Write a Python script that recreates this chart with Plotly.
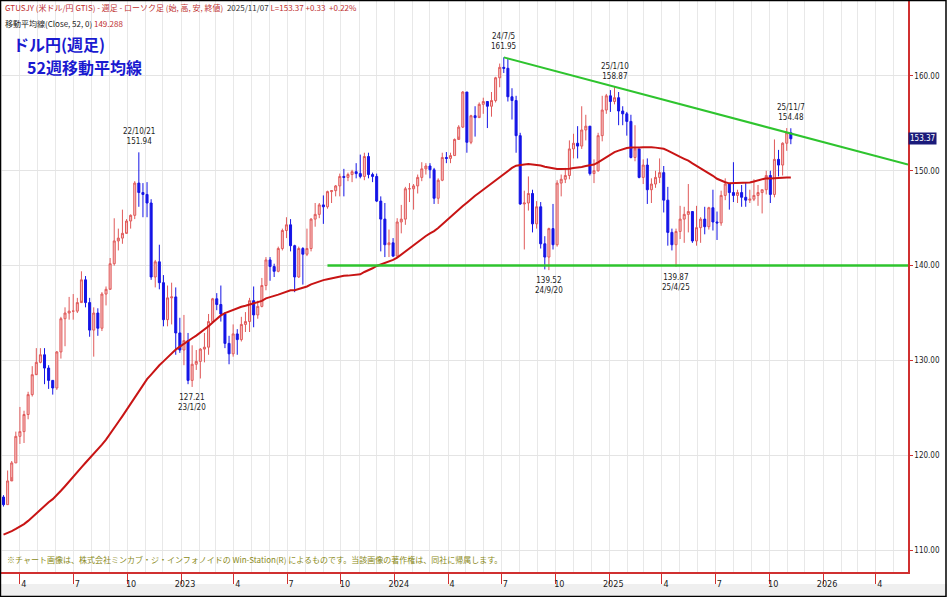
import pandas as pd
import plotly.graph_objects as go

# weekly closes before the chart window (only used to seed the 52-week MA)
pre_closes = [108.3,109.0,108.9,109.6, 110.6,109.7,108.8,107.9,109.3, 108.6,109.4,108.9,109.8,
              109.5,109.7,110.2,110.7, 111.0,110.1,110.1,110.5,109.7, 110.2,109.6,109.8,109.8,
              109.7,109.9,109.9,110.7, 111.0,112.2,114.2,113.5,114.0, 113.4,113.9,114.0,113.4,
              112.8,113.4,113.7,114.4,115.1, 115.6,114.2,113.7,115.3, 115.2,115.4,115.0,115.6]

# weekly candles, first week ending 2022-03-04
closes = [114.8,117.3,119.2,122.0,122.5,124.3,126.4,128.5,129.8,130.6,129.2,127.9,127.1,130.9,134.4,135.0,
          135.2,135.2,136.1,138.5,136.1,133.2,135.0,133.4,137.0,137.5,140.2,142.6,142.9,143.4,144.7,145.3,
          148.7,147.7,147.5,146.6,138.8,140.4,138.2,134.3,136.6,136.7,132.9,131.1,
          132.1,127.9,129.6,129.9,131.2,131.4,134.1,136.5,135.9,134.9,131.8,130.7,132.8,132.2,133.8,134.1,
          136.3,134.8,135.7,137.9,140.6,139.9,139.4,141.8,143.7,144.3,142.1,138.8,141.8,141.2,141.8,144.9,
          145.4,146.4,146.2,147.8,147.9,148.4,149.4,149.3,149.6,149.9,149.7,149.4,151.5,149.6,149.4,146.8,
          144.9,142.2,142.4,141.0,
          144.6,144.9,148.1,148.1,148.4,149.3,150.2,150.5,150.1,147.1,149.0,151.4,151.3,151.6,153.3,154.6,
          158.3,153.0,155.8,155.6,157.0,157.3,156.8,157.4,159.8,160.9,160.8,157.8,157.4,153.7,146.5,146.6,
          147.6,144.4,146.2,142.3,140.9,143.9,142.2,148.7,149.1,149.5,152.3,152.9,152.6,154.3,154.7,149.7,
          150.0,153.7,156.4,157.9,
          157.3,157.7,156.3,156.0,155.2,151.4,152.3,149.3,150.6,148.0,148.6,149.3,149.8,146.9,143.5,142.2,
          143.6,144.9,145.4,145.7,142.6,144.0,144.9,144.1,146.1,144.6,144.5,147.4,148.6,147.7,147.4,147.7,
          147.2,146.9,147.0,147.4,147.7,148.0,149.5,147.5,151.2,150.6,152.9,154.0,153.37]
highs = [115.8,118.4,119.4,122.5,125.1,124.7,126.7,129.4,131.3,131.3,131.3,129.5,127.6,131.0,134.6,135.6,
         136.7,137.0,136.6,139.4,138.9,136.6,135.6,135.5,137.2,137.8,140.8,144.99,143.9,145.9,144.9,145.4,
         148.9,151.94,148.7,148.8,147.0,140.6,142.2,139.0,137.9,138.2,137.7,134.5,
         134.8,132.9,131.6,131.1,131.3,132.9,134.9,136.6,137.1,137.9,135.1,132.6,133.8,133.3,134.6,135.1,
         136.6,137.8,136.3,138.7,140.9,140.9,140.2,142.0,143.9,145.1,144.9,142.2,142.0,141.95,143.9,145.0,
         146.6,146.6,147.4,147.9,147.95,148.5,149.7,150.2,149.8,150.1,150.8,151.7,151.9,151.9,149.8,149.7,
         147.3,146.6,143.8,142.9,
         145.0,146.4,148.3,148.7,148.6,149.6,150.9,150.8,150.8,150.3,149.2,151.9,151.97,151.9,153.4,154.8,
         158.4,157.8,155.9,156.8,157.2,157.7,157.0,158.3,159.9,161.3,161.95,161.8,158.7,157.9,154.0,147.9,
         149.4,148.0,146.8,146.7,143.1,144.0,146.5,149.0,149.6,150.3,153.2,153.9,154.7,156.8,155.9,154.5,
         151.2,154.0,157.9,158.1,
         158.5,158.87,158.3,156.8,156.2,155.9,154.8,152.1,151.2,151.3,149.2,150.0,151.3,150.5,148.3,143.9,
         143.9,146.3,146.2,148.6,144.8,146.3,145.1,146.2,146.2,148.0,145.7,147.9,149.2,148.7,150.9,148.0,
         148.5,148.8,148.0,149.1,148.5,148.0,150.0,150.0,153.3,152.2,153.0,154.5,154.48]
lows = [114.6,114.8,117.7,119.2,121.2,121.3,123.8,126.2,128.6,129.7,127.5,127.0,126.4,126.9,130.2,131.5,
        134.3,134.3,135.0,136.3,135.6,132.5,130.4,132.6,133.1,135.8,137.6,140.0,141.6,142.3,143.5,143.9,
        144.9,146.2,145.1,145.1,138.5,137.7,137.5,133.6,133.6,133.8,130.6,130.8,
        129.5,127.5,127.21,129.0,128.1,129.8,130.6,134.0,135.3,134.1,131.3,129.6,130.4,130.6,132.0,133.0,
        133.0,133.5,134.4,135.6,137.4,138.4,138.8,139.3,141.6,142.9,141.5,137.2,138.7,138.0,141.0,141.5,
        144.1,145.0,144.4,146.0,146.6,147.3,147.3,147.3,148.9,148.8,149.2,149.2,149.0,149.2,148.8,146.7,
        141.5,140.9,140.9,140.9,
        140.8,143.4,144.3,146.7,145.9,147.6,148.9,149.6,149.2,146.5,146.5,148.9,150.8,150.8,151.6,153.6,
        154.5,151.9,152.8,153.6,155.8,156.0,154.5,155.7,157.2,158.8,160.3,157.3,155.4,151.9,146.4,141.7,
        145.8,143.5,143.9,141.8,139.6,139.52,141.7,142.0,147.3,148.7,149.1,151.3,151.3,152.3,153.2,149.5,
        148.7,149.9,153.1,156.0,
        156.2,157.0,154.8,154.8,153.7,151.3,151.0,149.2,148.6,146.5,146.6,148.2,148.7,145.6,142.1,141.6,
        139.87,142.8,142.4,143.5,142.4,142.1,142.4,143.3,143.8,143.7,142.7,144.2,146.9,145.9,146.7,146.6,
        146.2,146.2,146.6,146.8,146.3,145.5,147.5,146.6,147.2,149.4,149.5,152.1,152.8]

dates = pd.date_range("2022-03-04", periods=len(closes), freq="7D")
opens = [pre_closes[-1]] + closes[:-1]
ma52 = pd.Series(pre_closes + closes).rolling(52).mean().iloc[len(pre_closes):].values

# drawn lines
trend_dates = ["2024-07-05", "2026-05-26"]
trend_vals = [161.95, 150.65]
support_dates = ["2023-09-08", "2026-05-26"]
support_vals = [140.0, 140.0]

# swing labels
peak_dates = ["2022-10-21", "2024-07-05", "2025-01-10", "2025-11-07"]
peak_vals = [151.94, 161.95, 158.87, 154.48]
peak_text = ["22/10/21", "24/7/5", "25/1/10", "25/11/7"]
trough_dates = ["2023-01-20", "2024-09-20", "2025-04-25"]
trough_vals = [127.21, 139.52, 139.87]
trough_text = ["23/1/20", "24/9/20", "25/4/25"]

tick_vals = ["2022-04-01","2022-07-01","2022-10-01","2023-01-01","2023-04-01","2023-07-01","2023-10-01",
             "2024-01-01","2024-04-01","2024-07-01","2024-10-01","2025-01-01","2025-04-01","2025-07-01",
             "2025-10-01","2026-01-01","2026-04-01"]
tick_text = ["4","7","10","2023","4","7","10","2024","4","7","10","2025","4","7","10","2026","4"]

fig = go.Figure()
fig.add_trace(go.Candlestick(
    x=dates, open=opens, high=highs, low=lows, close=closes,
    increasing=dict(line=dict(color="#e05a5a", width=1), fillcolor="#f6c4c4"),
    decreasing=dict(line=dict(color="#1414e6", width=1), fillcolor="#1414e6"),
    whiskerwidth=0, hoverinfo="skip"))
fig.add_trace(go.Scatter(x=dates, y=ma52, mode="lines", line=dict(color="#c81414", width=2), hoverinfo="skip"))
fig.add_trace(go.Scatter(x=trend_dates, y=trend_vals, mode="lines", line=dict(color="#2ec42e", width=2), hoverinfo="skip"))
fig.add_trace(go.Scatter(x=support_dates, y=support_vals, mode="lines", line=dict(color="#2ec42e", width=2.5), hoverinfo="skip"))

lab_font = dict(family="DejaVu Sans Condensed", size=8, color="#222")
for d, v, t in zip(peak_dates, peak_vals, peak_text):
    fig.add_annotation(x=d, y=v, text=f"{t}<br>{v:.2f}", showarrow=False, yanchor="bottom", yshift=4, font=lab_font)
for d, v, t in zip(trough_dates, trough_vals, trough_text):
    fig.add_annotation(x=d, y=v, text=f"{v:.2f}<br>{t}", showarrow=False, yanchor="top", yshift=-4, font=lab_font)

# header and titles
fig.add_annotation(xref="paper", yref="paper", x=0.003, y=1.0, xanchor="left", yanchor="top", showarrow=False,
                   text="GTUSJY (米ドル/円 GTIS) - 週足 - ローソク足 (始, 高, 安, 終値)  <span style='color:#333'>2025/11/07</span> L=153.37 +0.33  +0.22%",
                   font=dict(family="Noto Sans CJK JP", size=8, color="#c03030"))
fig.add_annotation(xref="paper", yref="paper", x=0.003, y=0.972, xanchor="left", yanchor="top", showarrow=False,
                   text="移動平均線(Close, 52, 0) <span style='color:#c03030'>149.288</span>",
                   font=dict(family="Noto Sans CJK JP", size=8, color="#222"))
title_font = dict(family="Noto Sans CJK JP", size=16, color="#1a1ad0")
fig.add_annotation(xref="paper", yref="paper", x=0.012, y=0.948, xanchor="left", yanchor="top", showarrow=False,
                   text="<b>ドル円(週足)</b>", font=title_font)
fig.add_annotation(xref="paper", yref="paper", x=0.027, y=0.908, xanchor="left", yanchor="top", showarrow=False,
                   text="<b>52週移動平均線</b>", font=title_font)
fig.add_annotation(xref="paper", yref="paper", x=0.006, y=0.008, xanchor="left", yanchor="bottom", showarrow=False,
                   text="※チャート画像は、株式会社ミンカブ・ジ・インフォノイドの Win-Station(R) によるものです。当該画像の著作権は、同社に帰属します。",
                   font=dict(family="Noto Sans CJK JP", size=8, color="#8a8a20"))
# last price tag
fig.add_annotation(xref="paper", y=closes[-1], x=1.0, xanchor="left", showarrow=False, text="153.37",
                   bgcolor="#1a1a7a", font=dict(family="DejaVu Sans Condensed", size=8, color="white"), borderpad=1)

H = 572.0
fig.add_shape(type="rect", xref="paper", yref="paper", x0=0, x1=947/908, y0=-12/H, y1=-25/H,
              fillcolor="#efefef", line_width=0, layer="below")
fig.add_shape(type="rect", xref="paper", yref="paper", x0=0.0005, x1=946/908, y0=-24.5/H, y1=0.999,
              line=dict(color="black", width=1.5), fillcolor="rgba(0,0,0,0)")

fig.update_layout(
    width=947, height=597, margin=dict(l=0, r=39, t=0, b=25, autoexpand=False),
    paper_bgcolor="white", plot_bgcolor="white", showlegend=False,
    xaxis=dict(type="date", range=["2022-02-26", "2026-05-26"], rangeslider=dict(visible=False),
               automargin=False,
               tickvals=tick_vals, ticktext=tick_text, ticks="outside", ticklen=10, tickcolor="#d03030",
               ticklabelshift=4, ticklabelstandoff=-8,
               showline=True, linecolor="#d03030", linewidth=1.5,
               showgrid=True, gridcolor="#e8e8e8",
               minor=dict(dtick="M1", tick0="2022-01-01", showgrid=True, gridcolor="#e8e8e8"),
               tickfont=dict(family="DejaVu Sans Condensed", size=9, color="#222")),
    yaxis=dict(side="right", range=[107.7, 168.0], dtick=10, tickformat=".2f", ticks="outside",
               automargin=False,
               ticklen=3, tickcolor="#d03030", showline=True, linecolor="#d03030", linewidth=1.5,
               showgrid=True, gridcolor="#e4e4e4", zeroline=False,
               tickfont=dict(family="DejaVu Sans Condensed", size=8, color="#222")),
)

fig.write_html("out.html", config={"displayModeBar": False},
               post_script="document.body.style.margin='0';document.body.style.overflow='hidden';")
